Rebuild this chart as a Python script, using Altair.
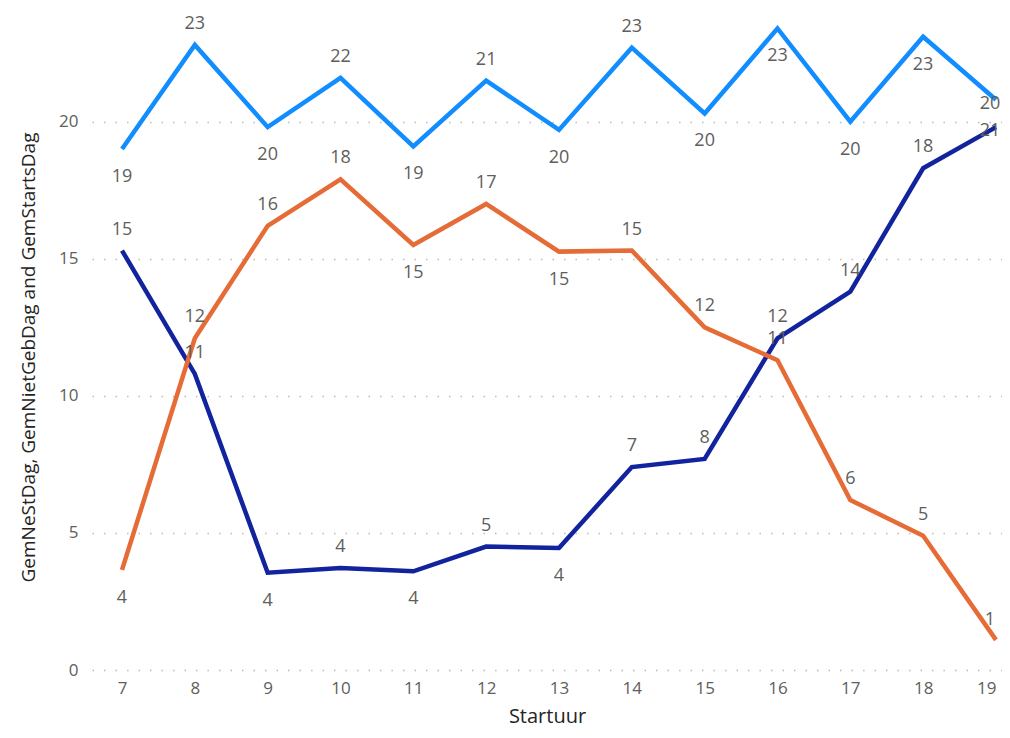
import altair as alt
import pandas as pd

hours = list(range(7, 20))
series_names = ["GemNeStDag", "GemNietGebDag", "GemStartsDag"]
series_colors = ["#12239E", "#E66C37", "#118DFF"]

starts = [19.0, 22.8, 19.8, 21.6, 19.1, 21.5, 19.7, 22.7, 20.3, 23.4, 20.0, 23.1, 20.8]
nest = [15.3, 10.8, 3.55, 3.72, 3.6, 4.5, 4.45, 7.4, 7.7, 12.1, 13.8, 18.3, 19.8]
nietgeb = [3.65, 12.1, 16.2, 17.9, 15.5, 17.0, 15.26, 15.3, 12.5, 11.3, 6.2, 4.9, 1.1]

starts_lbl = ["19", "23", "20", "22", "19", "21", "20", "23", "20", "23", "20", "23", "20"]
nest_lbl = ["15", "11", "4", "4", "4", "5", "4", "7", "8", "12", "14", "18", "21"]
niet_lbl = ["4", "12", "16", "18", "15", "17", "15", "15", "12", "11", "6", "5", "1"]

starts_pos = ["below", "above", "below", "above", "below", "above", "below", "above",
              "below", "below", "below", "below", "center"]
nest_pos = ["above", "above", "below", "above", "below", "above", "below", "above",
            "above", "above", "above", "above", "center"]
niet_pos = ["below", "above", "above", "above", "below", "above", "below", "above",
            "above", "above", "above", "above", "above"]

rows = []
for name, vals, lbls, poss in [
    ("GemNeStDag", nest, nest_lbl, nest_pos),
    ("GemNietGebDag", nietgeb, niet_lbl, niet_pos),
    ("GemStartsDag", starts, starts_lbl, starts_pos),
]:
    for h, v, l, p in zip(hours, vals, lbls, poss):
        rows.append({"Startuur": h, "Serie": name, "Waarde": v, "Label": l, "Pos": p})
df = pd.DataFrame(rows)

FONT = "Open Sans"
LAST = hours[-1]

x_enc = alt.X("Startuur:Q",
              scale=alt.Scale(domain=[6.588, 19.083], nice=False, zero=False),
              axis=alt.Axis(values=hours, title="Startuur", format="d", grid=False,
                            domain=False, ticks=False, labelPadding=10, labelFlush=8,
                            labelFontSize=17, labelColor="#605E5C", labelFont=FONT,
                            titleFontSize=20, titleColor="#252423", titleFont=FONT,
                            titleFontWeight="normal", titleY=46, titleBaseline="middle"))
y_enc = alt.Y("Waarde:Q",
              scale=alt.Scale(domain=[0, 24], nice=False),
              axis=alt.Axis(values=[0, 5, 10, 15, 20],
                            title="GemNeStDag, GemNietGebDag and GemStartsDag",
                            grid=True, gridDash=[1.5, 10], gridColor="#BDBDBD", gridWidth=1.5,
                            domain=False, ticks=False, labelPadding=14,
                            labelFontSize=17, labelColor="#605E5C", labelFont=FONT,
                            titleFontSize=19, titleColor="#252423", titleFont=FONT,
                            titleFontWeight="normal", titleX=-64, titleY=345,
                            titleBaseline="middle", titleAngle=270))
color_enc = alt.Color("Serie:N", scale=alt.Scale(domain=series_names, range=series_colors), legend=None)

base = alt.Chart(df)

lines = base.mark_line(strokeWidth=4.5, strokeJoin="miter", strokeCap="butt").encode(
    x=x_enc, y=y_enc, color=color_enc, detail="Serie:N", order="Startuur:Q"
)

def label_layer(pos, dy, last):
    cond = (alt.datum.Pos == pos) & ((alt.datum.Startuur == LAST) if last else (alt.datum.Startuur != LAST))
    return base.transform_filter(cond).mark_text(
        fontSize=18, font=FONT, color="#605E5C", dy=dy, dx=-6 if last else 0,
        baseline="middle", align="center"
    ).encode(x="Startuur:Q", y="Waarde:Q", text="Label:N")

chart = alt.layer(
    lines,
    label_layer("above", -21, False),
    label_layer("below", 28, False),
    label_layer("above", -20, True),
    label_layer("center", 4, True),
).properties(
    width=910, height=658,
    background="white",
    autosize=alt.AutoSizeParams(type="none"),
    padding={"left": 84, "top": 4, "right": 0, "bottom": 60},
).configure_view(strokeWidth=0)

chart.save("out.html", embed_options={"renderer": "svg", "actions": False})
